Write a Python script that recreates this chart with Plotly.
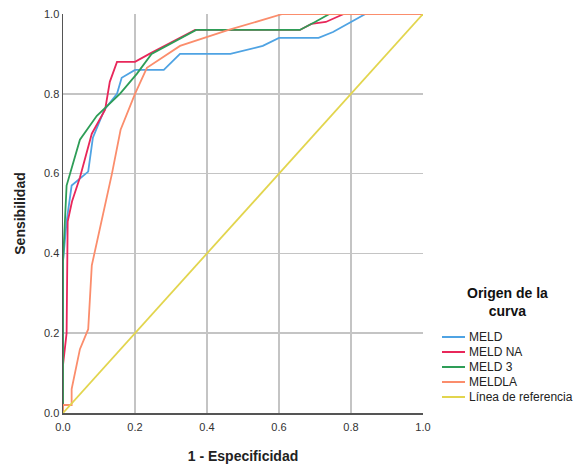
import plotly.graph_objects as go

meld_x = [0, 0, 0.01, 0.024, 0.07, 0.083, 0.115, 0.15, 0.163, 0.2, 0.28, 0.325, 0.465, 0.555, 0.6, 0.71, 0.75, 0.8, 0.84, 1.0]
meld_y = [0, 0.38, 0.48, 0.57, 0.605, 0.69, 0.76, 0.80, 0.84, 0.86, 0.86, 0.90, 0.90, 0.92, 0.94, 0.94, 0.955, 0.98, 1.0, 1.0]

meldna_x = [0, 0, 0.01, 0.013, 0.025, 0.047, 0.08, 0.117, 0.13, 0.15, 0.2, 0.24, 0.367, 0.658, 0.69, 0.73, 0.78, 1.0]
meldna_y = [0, 0.12, 0.2, 0.48, 0.53, 0.59, 0.70, 0.76, 0.83, 0.88, 0.88, 0.90, 0.96, 0.96, 0.975, 0.98, 1.0, 1.0]

meld3_x = [0, 0, 0.01, 0.047, 0.094, 0.158, 0.205, 0.246, 0.37, 0.658, 0.70, 0.74, 1.0]
meld3_y = [0, 0.38, 0.57, 0.685, 0.745, 0.80, 0.85, 0.90, 0.96, 0.96, 0.98, 1.0, 1.0]

meldla_x = [0, 0, 0.024, 0.024, 0.047, 0.07, 0.08, 0.09, 0.136, 0.16, 0.2, 0.233, 0.325, 0.46, 0.61, 1.0]
meldla_y = [0, 0.02, 0.02, 0.06, 0.16, 0.21, 0.37, 0.41, 0.60, 0.71, 0.80, 0.865, 0.92, 0.96, 1.0, 1.0]

ref_x = [0, 1]
ref_y = [0, 1]

names = ["MELD", "MELD NA", "MELD 3", "MELDLA", "Línea de referencia"]
colors = ["#4fa3e3", "#e8275a", "#2e9d57", "#fb8d6c", "#e2d54e"]
legend_title = "<b>Origen de la<br>curva</b>"

tickvals = [0, 0.2, 0.4, 0.6, 0.8, 1.0]
ticktext = ["0.0", "0.2", "0.4", "0.6", "0.8", "1.0"]

W, H = 581, 468
ML, MT = 63, 14
PW, PH = 360, 399
MR = W - ML - PW
MB = H - MT - PH

def px_x(p):
    return (p - ML) / PW

def px_y(p):
    return (MT + PH - p) / PH

fig = go.Figure()
series = [(meld_x, meld_y), (meldna_x, meldna_y), (meld3_x, meld3_y), (meldla_x, meldla_y), (ref_x, ref_y)]
for (xs, ys), n, c in zip(series, names, colors):
    fig.add_trace(go.Scatter(x=xs, y=ys, mode="lines", name=n,
                             line=dict(color=c, width=1.8)))

# legend drawn as text + sample lines
annotations = [dict(text=legend_title, xref="paper", yref="paper",
                    x=px_x(507), y=px_y(302), xanchor="center", yanchor="middle",
                    showarrow=False, align="center",
                    font=dict(size=14, color="#111111"))]
shapes = []
for i, (n, c) in enumerate(zip(names, colors)):
    yc = 337 + 15 * i
    shapes.append(dict(type="line", xref="paper", yref="paper",
                       x0=px_x(442), x1=px_x(465), y0=px_y(yc), y1=px_y(yc),
                       line=dict(color=c, width=2)))
    annotations.append(dict(text=n, xref="paper", yref="paper",
                            x=px_x(467), y=px_y(yc), xanchor="left", yanchor="middle",
                            showarrow=False, font=dict(size=12, color="#222222")))

fig.update_layout(
    width=W, height=H,
    margin=dict(l=ML, r=MR, t=MT, b=MB, autoexpand=False),
    paper_bgcolor="white", plot_bgcolor="white",
    font=dict(family="Liberation Sans, Arial, sans-serif", color="#333333", size=11),
    showlegend=False,
    annotations=annotations,
    shapes=shapes,
    xaxis=dict(range=[0, 1], tickvals=tickvals, ticktext=ticktext,
               showgrid=True, gridcolor="#c4c4c4", gridwidth=1.5,
               showline=True, linecolor="#555555", linewidth=1.5,
               zeroline=False, ticks="", fixedrange=True, ticklabelstandoff=3,
               ticklabeloverflow="allow",
               title=dict(text="<b>1 - Especificidad</b>", font=dict(size=14, color="#222222"), standoff=19)),
    yaxis=dict(range=[0, 1], tickvals=tickvals, ticktext=ticktext,
               showgrid=True, gridcolor="#c4c4c4", gridwidth=1.5,
               showline=True, linecolor="#555555", linewidth=1.5,
               zeroline=False, ticks="", fixedrange=True,
               ticklabeloverflow="allow",
               title=dict(text="<b>Sensibilidad</b>", font=dict(size=14, color="#222222"), standoff=15)),
)

fig.write_html("out.html",
               config={"displayModeBar": False, "staticPlot": True},
               post_script="document.body.style.margin='0';document.body.style.overflow='hidden';")
